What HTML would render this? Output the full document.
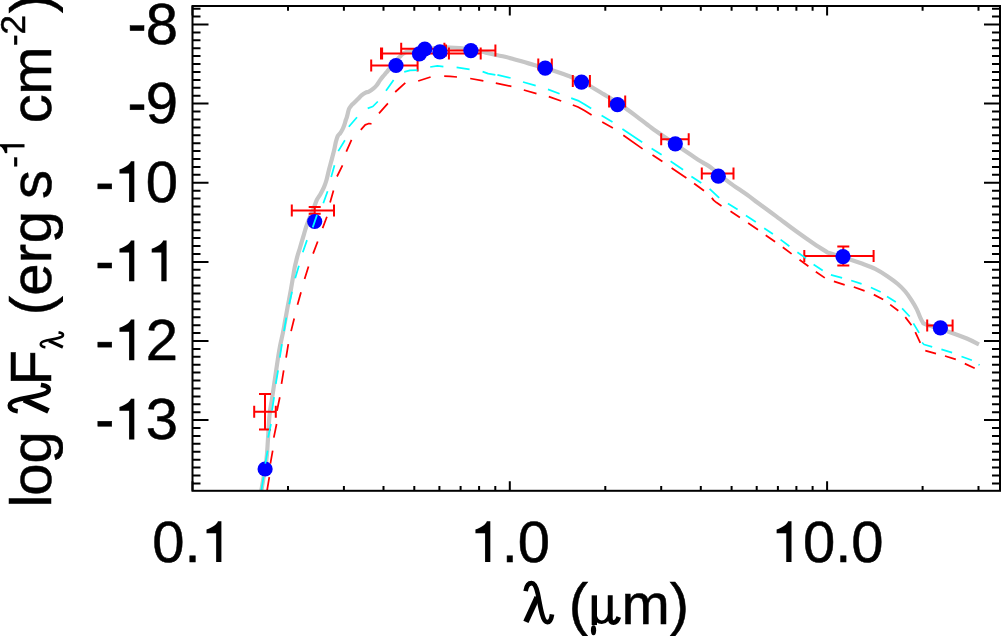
<!DOCTYPE html><html><head><meta charset="utf-8"><style>html,body{margin:0;padding:0;background:#fff;overflow:hidden}svg{display:block}</style></head><body>
<svg width="1001" height="636" viewBox="0 0 1001 636" font-family="Liberation Sans, sans-serif">
<rect width="1001" height="636" fill="#fff"/>
<filter id="gs" x="-10%" y="-10%" width="120%" height="120%"><feColorMatrix type="saturate" values="0"/></filter>
<defs><clipPath id="pc"><rect x="192.5" y="6.0" width="807.5" height="484.8"/></clipPath></defs>
<g clip-path="url(#pc)" fill="none" stroke-linejoin="round">
<path d="M261.30,490.80 C261.92,487.17 264.05,475.13 265.00,469.00 C265.95,462.87 266.25,462.93 267.00,454.00 C267.75,445.07 268.70,424.40 269.50,415.40 C270.30,406.40 270.87,406.28 271.80,400.00 C272.73,393.72 273.85,386.03 275.10,377.70 C276.35,369.37 278.00,357.47 279.30,350.00 C280.60,342.53 281.92,337.85 282.90,332.90 C283.88,327.95 284.43,324.50 285.20,320.30 C285.97,316.10 286.57,312.73 287.50,307.70 C288.43,302.67 289.67,296.47 290.80,290.10 C291.93,283.73 293.45,274.15 294.30,269.50 C295.15,264.85 295.33,264.60 295.90,262.20 C296.47,259.80 297.03,257.47 297.70,255.10 C298.37,252.73 299.18,250.37 299.90,248.00 C300.62,245.63 301.30,243.27 302.00,240.90 C302.70,238.53 303.40,236.17 304.10,233.80 C304.80,231.43 305.30,229.33 306.20,226.70 C307.10,224.07 308.43,220.58 309.50,218.00 C310.57,215.42 311.73,213.28 312.60,211.20 C313.47,209.12 313.98,207.40 314.70,205.50 C315.42,203.60 315.95,201.68 316.90,199.80 C317.85,197.92 319.22,196.32 320.40,194.20 C321.58,192.08 322.98,189.47 324.00,187.10 C325.02,184.73 325.68,182.85 326.50,180.00 C327.32,177.15 328.03,173.40 328.90,170.00 C329.77,166.60 330.83,162.90 331.70,159.60 C332.57,156.30 333.40,153.18 334.10,150.20 C334.80,147.22 335.28,144.07 335.90,141.70 C336.52,139.33 337.08,137.42 337.80,136.00 C338.52,134.58 339.42,134.30 340.20,133.20 C340.98,132.10 341.80,130.82 342.50,129.40 C343.20,127.98 343.85,126.27 344.40,124.70 C344.95,123.13 345.37,121.35 345.80,120.00 C346.23,118.65 346.48,118.42 347.00,116.60 C347.52,114.78 348.27,110.83 348.90,109.10 C349.53,107.37 350.10,107.10 350.80,106.20 C351.50,105.30 351.92,104.90 353.10,103.70 C354.28,102.50 356.45,100.43 357.90,99.00 C359.35,97.57 360.50,96.17 361.80,95.10 C363.10,94.03 364.52,93.18 365.70,92.60 C366.88,92.02 367.58,92.30 368.90,91.60 C370.22,90.90 372.30,89.45 373.60,88.40 C374.90,87.35 375.65,86.63 376.70,85.30 C377.75,83.97 378.85,81.88 379.90,80.40 C380.95,78.92 381.95,77.68 383.00,76.40 C384.05,75.12 385.28,73.78 386.20,72.70 C387.12,71.62 387.20,71.60 388.50,69.90 C389.80,68.20 392.20,64.60 394.00,62.50 C395.80,60.40 397.93,58.65 399.30,57.30 C400.67,55.95 401.10,55.27 402.20,54.40 C403.30,53.53 404.33,52.72 405.90,52.10 C407.47,51.48 409.25,51.13 411.60,50.70 C413.95,50.27 416.93,49.87 420.00,49.50 C423.07,49.13 426.67,48.82 430.00,48.50 C433.33,48.18 436.67,47.77 440.00,47.60 C443.33,47.43 446.67,47.40 450.00,47.50 C453.33,47.60 456.67,47.87 460.00,48.20 C463.33,48.53 466.50,48.95 470.00,49.50 C473.50,50.05 478.17,50.92 481.00,51.50 C483.83,52.08 484.50,52.42 487.00,53.00 C489.50,53.58 493.00,54.37 496.00,55.00 C499.00,55.63 501.83,56.05 505.00,56.80 C508.17,57.55 511.67,58.58 515.00,59.50 C518.33,60.42 521.67,61.33 525.00,62.30 C528.33,63.27 531.83,64.38 535.00,65.30 C538.17,66.22 540.50,66.75 544.00,67.80 C547.50,68.85 552.00,70.27 556.00,71.60 C560.00,72.93 564.00,74.30 568.00,75.80 C572.00,77.30 576.00,78.70 580.00,80.60 C584.00,82.50 588.00,84.90 592.00,87.20 C596.00,89.50 600.00,92.00 604.00,94.40 C608.00,96.80 612.00,99.00 616.00,101.60 C620.00,104.20 624.42,107.42 628.00,110.00 C631.58,112.58 633.60,114.15 637.50,117.10 C641.40,120.05 646.45,124.08 651.40,127.70 C656.35,131.32 663.00,135.88 667.20,138.80 C671.40,141.72 673.47,143.07 676.60,145.20 C679.73,147.33 682.85,149.48 686.00,151.60 C689.15,153.72 692.67,156.07 695.50,157.90 C698.33,159.73 700.50,161.05 703.00,162.60 C705.50,164.15 708.00,165.40 710.50,167.20 C713.00,169.00 715.43,171.28 718.00,173.40 C720.57,175.52 723.23,177.82 725.90,179.90 C728.57,181.98 731.32,184.00 734.00,185.90 C736.68,187.80 739.33,189.47 742.00,191.30 C744.67,193.13 747.38,194.98 750.00,196.90 C752.62,198.82 753.27,199.52 757.70,202.80 C762.13,206.08 770.30,211.93 776.60,216.60 C782.90,221.27 789.22,226.23 795.50,230.80 C801.78,235.37 808.97,240.40 814.30,244.00 C819.63,247.60 825.30,251.00 827.50,252.40 C828.45,252.72 830.42,253.42 833.20,254.30 C835.98,255.18 841.40,256.85 844.20,257.70 C847.00,258.55 846.93,258.38 850.00,259.40 C853.07,260.42 858.40,262.22 862.60,263.80 C866.80,265.38 871.02,266.80 875.20,268.90 C879.38,271.00 883.93,273.88 887.70,276.40 C891.47,278.92 894.87,281.48 897.80,284.00 C900.73,286.52 903.00,288.78 905.30,291.50 C907.60,294.22 909.70,297.37 911.60,300.30 C913.50,303.23 915.23,306.17 916.70,309.10 C918.17,312.03 919.32,315.55 920.40,317.90 C921.48,320.25 922.73,322.32 923.20,323.20 C924.17,323.58 924.88,324.13 929.00,325.50 C933.12,326.87 941.60,329.23 947.90,331.40 C954.20,333.57 961.62,336.33 966.80,338.50 C971.98,340.67 976.97,343.42 979.00,344.40" stroke="#c6c6c6" stroke-width="4.2"/>
</g>
<path d="M254.2,411.8 H275.8 M254.2,405.8 V417.8 M275.8,405.8 V417.8 M265.0,394.0 V429.5 M259.0,394.0 H271.0 M259.0,429.5 H271.0 M291.8,210.6 H334.0 M291.8,204.6 V216.6 M334.0,204.6 V216.6 M314.7,207.0 V213.7 M308.7,207.0 H320.7 M308.7,213.7 H320.7 M371.2,65.4 H417.6 M371.2,59.4 V71.4 M417.6,59.4 V71.4 M382.1,53.4 H448.9 M382.1,47.4 V59.4 M448.9,47.4 V59.4 M401.2,48.7 H444.4 M401.2,42.7 V54.7 M444.4,42.7 V54.7 M381.0,53.5 H480.7 M381.0,47.5 V59.5 M480.7,47.5 V59.5 M446.0,50.5 H495.4 M446.0,44.5 V56.5 M495.4,44.5 V56.5 M538.3,64.4 H551.8 M538.3,58.4 V70.4 M551.8,58.4 V70.4 M572.8,80.9 H589.9 M572.8,74.9 V86.9 M589.9,74.9 V86.9 M609.1,101.6 H625.2 M609.1,95.6 V107.6 M625.2,95.6 V107.6 M661.2,139.3 H688.7 M661.2,133.3 V145.3 M688.7,133.3 V145.3 M701.8,173.5 H733.5 M701.8,167.5 V179.5 M733.5,167.5 V179.5 M804.3,256.1 H873.6 M804.3,250.1 V262.1 M873.6,250.1 V262.1 M843.3,246.4 V265.6 M837.3,246.4 H849.3 M837.3,265.6 H849.3 M927.2,325.5 H952.6 M927.2,319.5 V331.5 M952.6,319.5 V331.5" stroke="#ff0000" stroke-width="2.0" fill="none"/>
<g fill="#0000ff"><circle cx="265.1" cy="469.0" r="7.6"/><circle cx="314.7" cy="221.5" r="7.6"/><circle cx="396.0" cy="65.5" r="7.6"/><circle cx="419.4" cy="53.8" r="7.6"/><circle cx="424.8" cy="49.0" r="7.6"/><circle cx="439.9" cy="51.9" r="7.6"/><circle cx="470.9" cy="50.6" r="7.6"/><circle cx="545.2" cy="68.2" r="7.6"/><circle cx="581.5" cy="82.1" r="7.6"/><circle cx="617.4" cy="104.6" r="7.6"/><circle cx="675.3" cy="143.8" r="7.6"/><circle cx="718.3" cy="176.2" r="7.6"/><circle cx="843.0" cy="256.6" r="7.6"/><circle cx="940.4" cy="327.9" r="7.6"/></g>
<g clip-path="url(#pc)" fill="none" stroke-linejoin="round">
<path d="M261.3,490.8 L263.6,476.7 M265.3,463.6 L267.6,450.6 M268.1,437.6 L271.0,424.0 M272.0,410.7 L274.1,397.2 M275.8,383.8 L278.1,370.4 M279.8,357.7 L281.9,344.2 M284.0,331.1 L286.3,317.7 M289.2,304.3 L292.0,291.7 M295.2,278.3 L298.9,265.7 M302.8,252.2 L307.0,240.1 M312.7,227.4 L317.0,215.0 M323.3,203.3 L327.6,191.2 M331.2,177.1 L334.5,165.3 M338.3,151.1 L344.9,140.3 M348.8,126.7 L357.0,117.2 M367.7,108.4 L372.8,106.5 L377.8,101.5 M386.0,90.8 L393.6,80.1 M404.2,71.8 L410.0,70.3 L417.4,70.2 M430.2,67.0 L437.4,65.8 L443.4,66.6 M456.6,67.4 L469.6,69.3 M482.6,71.6 L488.2,73.6 L495.4,74.8 M497.4,74.8 L510.6,78.0 M523.0,82.0 L535.7,85.7 M548.0,89.4 L559.6,93.8 M571.2,98.2 L578.0,100.6 L584.4,104.2 L591.2,108.6 M601.6,115.6 L612.5,122.0 M622.4,129.1 L642.2,142.3 M651.6,148.4 L661.6,154.7 M670.6,161.3 L683.1,169.8 M691.4,176.4 L701.3,183.0 M709.6,188.8 L719.2,197.9 M727.9,203.5 L737.6,209.4 M745.9,215.5 L755.8,222.0 M764.2,228.3 L772.9,234.1 M780.6,239.6 L789.4,246.2 M797.4,252.3 L806.1,258.4 M813.6,264.5 L822.7,270.5 M830.9,274.8 L842.1,277.9 M851.2,280.5 L861.6,283.9 M870.9,287.5 L880.7,292.0 M887.0,296.4 L895.8,302.0 M902.1,308.3 L909.7,316.5 M913.4,323.4 L919.1,332.9 M922.1,342.5 L924.0,344.5 L932.2,346.9 M941.4,349.3 L952.1,352.7 M961.5,356.5 L971.9,360.3 M978.5,364.5 L979.6,365.1" stroke="#00ffff" stroke-width="1.75"/>
<path d="M267.0,490.8 L269.3,477.2 M270.4,463.6 L272.7,450.6 M273.8,437.6 L276.6,424.0 M277.0,410.7 L279.8,397.2 M281.5,383.8 L283.7,370.4 M286.1,357.7 L288.3,344.2 M291.1,331.1 L294.2,318.5 M297.5,304.8 L301.0,292.2 M304.6,279.1 L308.5,266.5 M313.1,253.6 L317.7,241.5 M322.6,228.1 L326.9,216.7 M330.1,202.6 L333.5,190.5 M337.0,176.5 L342.5,165.3 M346.3,151.6 L351.5,139.8 M360.8,129.8 L365.2,124.8 L369.0,123.5 L371.5,123.8 M379.0,113.4 L387.9,103.4 M395.2,92.0 L405.3,82.8 M418.2,81.0 L430.6,77.0 M444.2,76.2 L450.0,76.3 L457.0,77.0 M470.2,78.5 L483.4,80.8 M495.8,83.2 L511.4,86.4 M523.8,90.0 L536.5,93.7 M548.8,96.6 L561.2,101.0 M572.8,105.0 L578.0,107.0 L584.4,110.6 L591.6,115.0 M602.2,122.1 L612.9,128.1 M623.3,135.2 L642.6,148.9 M652.5,155.0 L662.4,161.6 M671.6,168.1 L686.4,178.0 M694.1,183.5 L704.0,190.7 M711.8,197.9 L713.8,200.4 L716.5,202.6 L721.5,205.9 M730.5,211.3 L739.9,217.6 M748.1,223.1 L758.0,229.7 M765.7,235.2 L775.1,241.8 M782.8,247.3 L791.6,253.9 M799.5,259.8 L808.4,266.2 M815.8,271.8 L824.8,277.9 M833.9,281.3 L844.7,284.8 M853.8,287.0 L864.6,290.8 M873.8,294.6 L883.2,299.5 M890.2,304.6 L898.3,310.8 M905.3,317.1 L911.5,325.3 M915.3,332.2 L920.3,342.9 M925.3,350.6 L936.0,353.7 M945.0,356.0 L955.8,359.3 M964.8,363.6 L974.7,368.3" stroke="#ff0000" stroke-width="1.75"/>
</g>
<rect x="192.5" y="6" width="807.5" height="484.8" fill="none" stroke="#000" stroke-width="2"/>
<path d="M192.5,8.7 h8 M1000,8.7 h-8 M192.5,16.6 h8 M1000,16.6 h-8 M192.5,24.5 h16 M1000,24.5 h-16 M192.5,32.4 h8 M1000,32.4 h-8 M192.5,40.3 h8 M1000,40.3 h-8 M192.5,48.2 h8 M1000,48.2 h-8 M192.5,56.1 h8 M1000,56.1 h-8 M192.5,64.1 h8 M1000,64.1 h-8 M192.5,72.0 h8 M1000,72.0 h-8 M192.5,79.9 h8 M1000,79.9 h-8 M192.5,87.8 h8 M1000,87.8 h-8 M192.5,95.7 h8 M1000,95.7 h-8 M192.5,103.6 h16 M1000,103.6 h-16 M192.5,111.5 h8 M1000,111.5 h-8 M192.5,119.4 h8 M1000,119.4 h-8 M192.5,127.4 h8 M1000,127.4 h-8 M192.5,135.3 h8 M1000,135.3 h-8 M192.5,143.2 h8 M1000,143.2 h-8 M192.5,151.1 h8 M1000,151.1 h-8 M192.5,159.0 h8 M1000,159.0 h-8 M192.5,166.9 h8 M1000,166.9 h-8 M192.5,174.8 h8 M1000,174.8 h-8 M192.5,182.7 h16 M1000,182.7 h-16 M192.5,190.7 h8 M1000,190.7 h-8 M192.5,198.6 h8 M1000,198.6 h-8 M192.5,206.5 h8 M1000,206.5 h-8 M192.5,214.4 h8 M1000,214.4 h-8 M192.5,222.3 h8 M1000,222.3 h-8 M192.5,230.2 h8 M1000,230.2 h-8 M192.5,238.1 h8 M1000,238.1 h-8 M192.5,246.0 h8 M1000,246.0 h-8 M192.5,253.9 h8 M1000,253.9 h-8 M192.5,261.9 h16 M1000,261.9 h-16 M192.5,269.8 h8 M1000,269.8 h-8 M192.5,277.7 h8 M1000,277.7 h-8 M192.5,285.6 h8 M1000,285.6 h-8 M192.5,293.5 h8 M1000,293.5 h-8 M192.5,301.4 h8 M1000,301.4 h-8 M192.5,309.3 h8 M1000,309.3 h-8 M192.5,317.2 h8 M1000,317.2 h-8 M192.5,325.2 h8 M1000,325.2 h-8 M192.5,333.1 h8 M1000,333.1 h-8 M192.5,341.0 h16 M1000,341.0 h-16 M192.5,348.9 h8 M1000,348.9 h-8 M192.5,356.8 h8 M1000,356.8 h-8 M192.5,364.7 h8 M1000,364.7 h-8 M192.5,372.6 h8 M1000,372.6 h-8 M192.5,380.5 h8 M1000,380.5 h-8 M192.5,388.5 h8 M1000,388.5 h-8 M192.5,396.4 h8 M1000,396.4 h-8 M192.5,404.3 h8 M1000,404.3 h-8 M192.5,412.2 h8 M1000,412.2 h-8 M192.5,420.1 h16 M1000,420.1 h-16 M192.5,428.0 h8 M1000,428.0 h-8 M192.5,435.9 h8 M1000,435.9 h-8 M192.5,443.8 h8 M1000,443.8 h-8 M192.5,451.7 h8 M1000,451.7 h-8 M192.5,459.7 h8 M1000,459.7 h-8 M192.5,467.6 h8 M1000,467.6 h-8 M192.5,475.5 h8 M1000,475.5 h-8 M192.5,483.4 h8 M1000,483.4 h-8 M192.5,490.8 v-9.6 M192.5,6 v9.6 M288.0,490.8 v-4.8 M288.0,6 v4.8 M343.9,490.8 v-4.8 M343.9,6 v4.8 M383.5,490.8 v-4.8 M383.5,6 v4.8 M414.3,490.8 v-4.8 M414.3,6 v4.8 M439.4,490.8 v-4.8 M439.4,6 v4.8 M460.6,490.8 v-4.8 M460.6,6 v4.8 M479.1,490.8 v-4.8 M479.1,6 v4.8 M495.3,490.8 v-4.8 M495.3,6 v4.8 M509.8,490.8 v-9.6 M509.8,6 v9.6 M605.3,490.8 v-4.8 M605.3,6 v4.8 M661.2,490.8 v-4.8 M661.2,6 v4.8 M700.8,490.8 v-4.8 M700.8,6 v4.8 M731.6,490.8 v-4.8 M731.6,6 v4.8 M756.7,490.8 v-4.8 M756.7,6 v4.8 M777.9,490.8 v-4.8 M777.9,6 v4.8 M796.4,490.8 v-4.8 M796.4,6 v4.8 M812.6,490.8 v-4.8 M812.6,6 v4.8 M827.1,490.8 v-9.6 M827.1,6 v9.6 M922.6,490.8 v-4.8 M922.6,6 v4.8 M978.5,490.8 v-4.8 M978.5,6 v4.8" stroke="#000" stroke-width="2" fill="none"/>
<g fill="#000" stroke="#000" stroke-width="0.5">
<rect x="130.09" y="25.65" width="13.91" height="4.99"/><text x="145.75" y="43.80" font-size="58">8</text>
<rect x="130.09" y="104.77" width="13.91" height="4.99"/><text x="145.75" y="122.92" font-size="58">9</text>
<rect x="97.84" y="183.89" width="13.91" height="4.99"/><path transform="translate(113.50,202.04) scale(0.0580,-0.0580)" d="M359,0 L359,703 L300,703 C282,648 210,600 103,560 L103,492 L269,492 L269,0 Z"/><text x="145.75" y="202.04" font-size="58">0</text>
<rect x="97.84" y="263.01" width="13.91" height="4.99"/><path transform="translate(113.50,281.16) scale(0.0580,-0.0580)" d="M359,0 L359,703 L300,703 C282,648 210,600 103,560 L103,492 L269,492 L269,0 Z"/><path transform="translate(145.75,281.16) scale(0.0580,-0.0580)" d="M359,0 L359,703 L300,703 C282,648 210,600 103,560 L103,492 L269,492 L269,0 Z"/>
<rect x="97.84" y="342.13" width="13.91" height="4.99"/><path transform="translate(113.50,360.28) scale(0.0580,-0.0580)" d="M359,0 L359,703 L300,703 C282,648 210,600 103,560 L103,492 L269,492 L269,0 Z"/><text x="145.75" y="360.28" font-size="58">2</text>
<rect x="97.84" y="421.25" width="13.91" height="4.99"/><path transform="translate(113.50,439.40) scale(0.0580,-0.0580)" d="M359,0 L359,703 L300,703 C282,648 210,600 103,560 L103,492 L269,492 L269,0 Z"/><text x="145.75" y="439.40" font-size="58">3</text>
<text x="152.19" y="561.90" font-size="58">0</text><text x="184.44" y="561.90" font-size="58">.</text><path transform="translate(200.56,561.90) scale(0.0580,-0.0580)" d="M359,0 L359,703 L300,703 C282,648 210,600 103,560 L103,492 L269,492 L269,0 Z"/>
<path transform="translate(469.49,561.90) scale(0.0580,-0.0580)" d="M359,0 L359,703 L300,703 C282,648 210,600 103,560 L103,492 L269,492 L269,0 Z"/><text x="501.74" y="561.90" font-size="58">.</text><text x="517.86" y="561.90" font-size="58">0</text>
<path transform="translate(770.67,561.90) scale(0.0580,-0.0580)" d="M359,0 L359,703 L300,703 C282,648 210,600 103,560 L103,492 L269,492 L269,0 Z"/><text x="802.91" y="561.90" font-size="58">0</text><text x="835.16" y="561.90" font-size="58">.</text><text x="851.29" y="561.90" font-size="58">0</text>
<g transform="translate(523.60,623.90) scale(58)" fill="none" stroke="#000"><path d="M0.035,-0.565 C0.05,-0.665 0.092,-0.703 0.138,-0.703 C0.195,-0.703 0.222,-0.625 0.245,-0.52 C0.27,-0.40 0.29,-0.27 0.318,-0.17 C0.343,-0.07 0.37,-0.03 0.41,-0.03 C0.45,-0.03 0.478,-0.08 0.49,-0.165" stroke-width="0.08"/><path d="M0.235,-0.46 L0.04,-0.035" stroke-width="0.098"/></g>
<text x="568.80" y="623.9" font-size="58">(</text>
<g transform="translate(590.80,623.90) scale(58)" fill="none" stroke="#000"><path d="M0.061,-0.493 V0.02" stroke-width="0.092"/><ellipse cx="0.047" cy="0.11" rx="0.045" ry="0.086" fill="#000" stroke="none"/><path d="M0.07,-0.16 C0.09,-0.06 0.14,-0.028 0.19,-0.028 C0.26,-0.028 0.31,-0.09 0.335,-0.2" stroke-width="0.06"/><path d="M0.335,-0.493 V-0.10 C0.335,-0.045 0.36,-0.022 0.392,-0.022 C0.43,-0.022 0.46,-0.05 0.482,-0.118" stroke-width="0.085"/></g>
<text x="621.50" y="623.9" font-size="58">m</text>
<text x="669.80" y="623.9" font-size="58">)</text>
<g transform="rotate(-90)" filter="url(#gs)"><text x="-507.51" y="50.50" font-size="58">l</text><text x="-495.68" y="50.50" font-size="58">o</text><text x="-463.53" y="50.50" font-size="58">g</text><text x="-385.58" y="50.50" font-size="58">F</text><text x="-315.19" y="50.50" font-size="58">(</text><text x="-295.72" y="50.50" font-size="58">e</text><text x="-263.35" y="50.50" font-size="58">r</text><text x="-243.28" y="50.50" font-size="58">g</text><text x="-199.06" y="50.50" font-size="58">s</text><text x="-167.68" y="24.50" font-size="35">-</text><text x="-123.37" y="50.50" font-size="58">c</text><text x="-94.87" y="50.50" font-size="58">m</text><text x="-46.13" y="24.50" font-size="35">-</text><text x="-34.48" y="24.50" font-size="35">2</text><text x="-13.33" y="50.50" font-size="58">)</text><g transform="translate(-413.30,50.50) scale(58)" fill="none" stroke="#000"><path d="M0.035,-0.565 C0.05,-0.665 0.092,-0.703 0.138,-0.703 C0.195,-0.703 0.222,-0.625 0.245,-0.52 C0.27,-0.40 0.29,-0.27 0.318,-0.17 C0.343,-0.07 0.37,-0.03 0.41,-0.03 C0.45,-0.03 0.478,-0.08 0.49,-0.165" stroke-width="0.08"/><path d="M0.235,-0.46 L0.04,-0.035" stroke-width="0.098"/></g><g transform="translate(-348.50,64.00) scale(33)" fill="none" stroke="#000"><path d="M0.035,-0.565 C0.05,-0.665 0.092,-0.703 0.138,-0.703 C0.195,-0.703 0.222,-0.625 0.245,-0.52 C0.27,-0.40 0.29,-0.27 0.318,-0.17 C0.343,-0.07 0.37,-0.03 0.41,-0.03 C0.45,-0.03 0.478,-0.08 0.49,-0.165" stroke-width="0.08"/><path d="M0.235,-0.46 L0.04,-0.035" stroke-width="0.098"/></g><path transform="translate(-156.76,24.50) scale(0.0350,-0.0350)" d="M359,0 L359,703 L300,703 C282,648 210,600 103,560 L103,492 L269,492 L269,0 Z"/></g>
</g>
</svg></body></html>
